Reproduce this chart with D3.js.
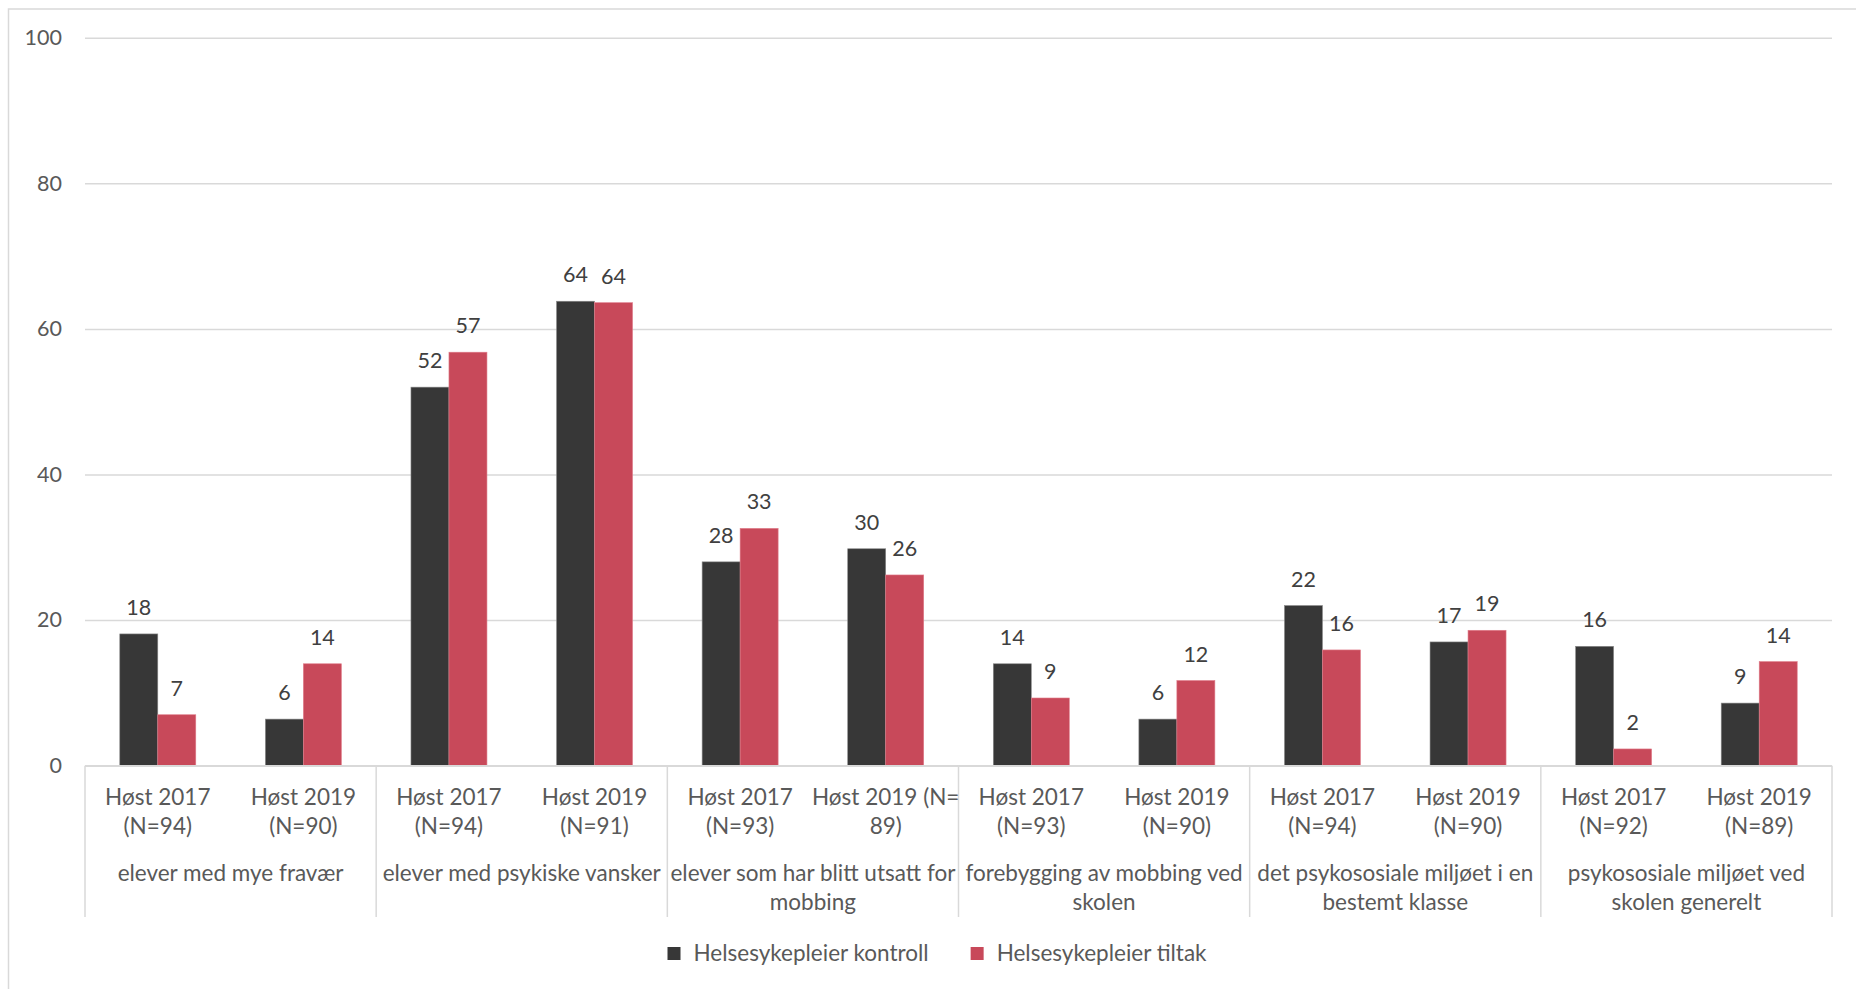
<!DOCTYPE html>
<html>
<head>
<meta charset="utf-8">
<script src="https://cdn.jsdelivr.net/npm/d3@7"></script>
<style>
  body { margin: 0; background: #fff; }
  svg { display: block; font-family: Lato, "Open Sans", sans-serif; }
</style>
</head>
<body>
<svg id="chart" width="1856" height="989"></svg>
<script>
// Question topics (outer category axis), wrapped into lines
const topics = [
  ["elever med mye fravær"],
  ["elever med psykiske vansker"],
  ["elever som har blitt utsatt for", "mobbing"],
  ["forebygging av mobbing ved", "skolen"],
  ["det psykososiale miljøet i en", "bestemt klasse"],
  ["psykososiale miljøet ved", "skolen generelt"]
];

// Survey rounds (inner category axis), two per topic
const rounds = [
  ["Høst 2017", "(N=94)"], ["Høst 2019", "(N=90)"],
  ["Høst 2017", "(N=94)"], ["Høst 2019", "(N=91)"],
  ["Høst 2017", "(N=93)"], ["Høst 2019 (N=", "89)"],
  ["Høst 2017", "(N=93)"], ["Høst 2019", "(N=90)"],
  ["Høst 2017", "(N=94)"], ["Høst 2019", "(N=90)"],
  ["Høst 2017", "(N=92)"], ["Høst 2019", "(N=89)"]
];

// Percent per round
const kontroll = [18.1, 6.4, 52.0, 63.8, 28.0, 29.8, 14.0, 6.4, 22.0, 17.0, 16.4, 8.6];
const tiltak   = [7.0, 14.0, 56.8, 63.6, 32.6, 26.2, 9.3, 11.7, 15.9, 18.6, 2.3, 14.3];

const seriesNames = ["Helsesykepleier kontroll", "Helsesykepleier tiltak"];
const seriesColors = ["#373737", "#c8495a"];
const yTicks = [0, 20, 40, 60, 80, 100];

const svg = d3.select("#chart");
const gridColor = "#d9d9d9";
const textColor = "#595959";
const labelSize = "22.5px";
const numberSize = "21.5px";

// chart frame
svg.append("rect")
  .attr("x", 8.5).attr("y", 9)
  .attr("width", 1900).attr("height", 1000)
  .attr("fill", "none").attr("stroke", gridColor).attr("stroke-width", 1.5);

const plotLeft = 85, plotRight = 1832, plotTop = 37.7, plotBase = 765.7;

const y = d3.scaleLinear().domain([0, 100]).range([plotBase, plotTop]);
const x = d3.scaleBand().domain(d3.range(rounds.length))
  .range([plotLeft, plotRight]).paddingInner(0.478).paddingOuter(0.239);
const xs = d3.scaleBand().domain([0, 1]).range([0, x.bandwidth()]);

// y axis with gridlines
const yAxis = d3.axisLeft(y).tickValues(yTicks).tickSize(-(plotRight - plotLeft)).tickPadding(23);
const gy = svg.append("g").attr("transform", `translate(${plotLeft},0)`).call(yAxis);
gy.select(".domain").remove();
gy.selectAll(".tick line").attr("stroke", gridColor).attr("stroke-width", 1.5);
gy.selectAll(".tick text").attr("fill", textColor).style("font-size", numberSize)
  .style("font-family", "Lato, 'Open Sans', sans-serif");

// bars
const series = [kontroll, tiltak];
series.forEach((vals, s) => {
  const g = svg.append("g");
  g.selectAll("rect").data(vals).join("rect")
    .attr("x", (d, i) => x(i) + xs(s))
    .attr("y", d => y(d))
    .attr("width", xs.bandwidth())
    .attr("height", d => y(0) - y(d))
    .attr("fill", seriesColors[s])
    .attr("stroke", s === 0 ? "#8a8a8a" : "#e07c8a")
    .attr("stroke-width", 0.6);
  g.selectAll("text").data(vals).join("text")
    .attr("x", (d, i) => x(i) + xs(s) + xs.bandwidth() / 2)
    .attr("y", d => y(d) - 19)
    .attr("text-anchor", "middle")
    .attr("fill", "#404040")
    .style("font-size", numberSize)
    .text(d => d3.format(".0f")(d));
});

// category axis line
svg.append("line")
  .attr("x1", plotLeft).attr("x2", plotRight).attr("y1", plotBase).attr("y2", plotBase)
  .attr("stroke", gridColor).attr("stroke-width", 1.5);

// group separators
const groupEdges = d3.range(topics.length + 1).map(k => plotLeft + k * 2 * x.step());
svg.append("g").selectAll("line").data(groupEdges).join("line")
  .attr("x1", d => d).attr("x2", d => d)
  .attr("y1", plotBase).attr("y2", 917)
  .attr("stroke", gridColor).attr("stroke-width", 1.5);

// inner labels
const inner = svg.append("g").attr("fill", textColor).style("font-size", labelSize);
rounds.forEach((lines, i) => {
  lines.forEach((t, j) => {
    inner.append("text")
      .attr("x", x(i) + x.bandwidth() / 2)
      .attr("y", 797 + j * 29)
      .attr("dy", "0.35em")
      .attr("text-anchor", "middle")
      .text(t);
  });
});

// outer labels
const outer = svg.append("g").attr("fill", textColor).style("font-size", labelSize);
topics.forEach((lines, k) => {
  const cx = (groupEdges[k] + groupEdges[k + 1]) / 2;
  lines.forEach((t, j) => {
    outer.append("text")
      .attr("x", cx)
      .attr("y", 873 + j * 29)
      .attr("dy", "0.35em")
      .attr("text-anchor", "middle")
      .text(t);
  });
});

// legend
const legend = svg.append("g");
const items = seriesNames.map((name, s) => {
  const g = legend.append("g");
  g.append("rect").attr("width", 13).attr("height", 13).attr("y", -6.5)
    .attr("fill", seriesColors[s]);
  const t = g.append("text").attr("x", 26).attr("dy", "0.35em")
    .attr("fill", textColor).style("font-size", labelSize).text(name);
  return { g, w: 26 + t.node().getComputedTextLength() };
});
const gap = 42;
const totalW = d3.sum(items, d => d.w) + gap * (items.length - 1);
let lx = 937 - totalW / 2;
items.forEach(it => {
  it.g.attr("transform", `translate(${lx},953.5)`);
  lx += it.w + gap;
});
</script>
</body>
</html>
